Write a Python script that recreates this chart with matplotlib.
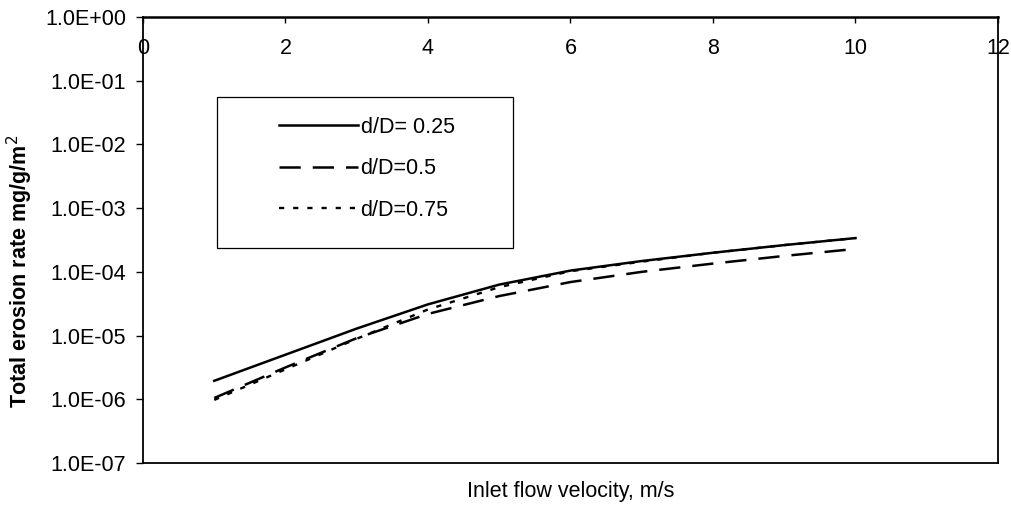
import numpy as np
import matplotlib
matplotlib.use("Agg")
import matplotlib.pyplot as plt
from matplotlib.ticker import FuncFormatter, FixedLocator, NullLocator
from matplotlib.patches import Rectangle

plt.rcParams['font.family'] = ['Liberation Sans', 'DejaVu Sans']

# inlet velocity (m/s) and total erosion rate, log10 of mg/g/m2
velocity = [1, 2, 3, 4, 5, 6, 7, 8, 9, 10]
log_rate_025 = [-5.71, -5.30, -4.89, -4.51, -4.20, -3.98, -3.83, -3.70, -3.58, -3.47]
log_rate_050 = [-5.98, -5.50, -5.04, -4.66, -4.38, -4.16, -4.00, -3.87, -3.75, -3.64]
log_rate_075 = [-6.01, -5.53, -5.05, -4.59, -4.24, -3.99, -3.84, -3.70, -3.58, -3.47]
labels = ['d/D= 0.25', 'd/D=0.5', 'd/D=0.75']

rate_025 = 10 ** np.array(log_rate_025)
rate_050 = 10 ** np.array(log_rate_050)
rate_075 = 10 ** np.array(log_rate_075)

FS = 15.5

fig = plt.figure(figsize=(10.12, 5.12), dpi=100)
ax = fig.add_axes([143/1012, 1 - 463/512, 855/1012, 446/512])

l1, = ax.plot(velocity, rate_025, color='black', lw=1.8, linestyle='-')
l2, = ax.plot(velocity, rate_050, color='black', lw=1.8, dashes=(8.5, 4.8))
l3, = ax.plot(velocity, rate_075, color='black', lw=1.7, dashes=(2.2, 3.8))

ax.set_yscale('log')
ax.set_ylim(1e-7, 1e0)
ax.set_xlim(0, 12)
ax.yaxis.set_major_locator(FixedLocator([10.0 ** k for k in range(-7, 1)]))
ax.yaxis.set_minor_locator(NullLocator())
ax.yaxis.set_major_formatter(FuncFormatter(lambda v, p: f'{v:.1E}'))

# x axis drawn along the top edge, labels sitting just inside the box
ax.xaxis.tick_top()
ax.set_xticks([0, 2, 4, 6, 8, 10, 12])
ax.tick_params(axis='x', direction='in', length=4, width=1, pad=-30, labelsize=FS)
ax.tick_params(axis='y', direction='out', length=5, width=1, labelsize=FS, pad=7)

for s in ax.spines.values():
    s.set_linewidth(1.3)
    s.set_color('black')
ax.spines['top'].set_linewidth(1.8)

ax.set_xlabel('Inlet flow velocity, m/s', fontsize=FS)
ax.xaxis.set_label_position('bottom')
ax.xaxis.labelpad = 13
ax.set_ylabel('Total erosion rate mg/g/m$^2$', fontsize=FS, fontweight='bold')
ax.yaxis.set_label_coords(-0.126, 0.43)

# legend box
box = Rectangle((217/1012, 1 - 248/512), 296/1012, 151/512, transform=fig.transFigure,
                facecolor='white', edgecolor='black', lw=0.9, zorder=5)
fig.patches.append(box)
leg = fig.legend([l1, l2, l3], labels, loc='upper left',
                 bbox_to_anchor=(268/1012, 1 - 106/512), frameon=False, fontsize=FS,
                 handlelength=3.7, handletextpad=0.1, labelspacing=0.95, borderpad=0)
leg.set_zorder(6)

fig.savefig('out.png', dpi=100)
